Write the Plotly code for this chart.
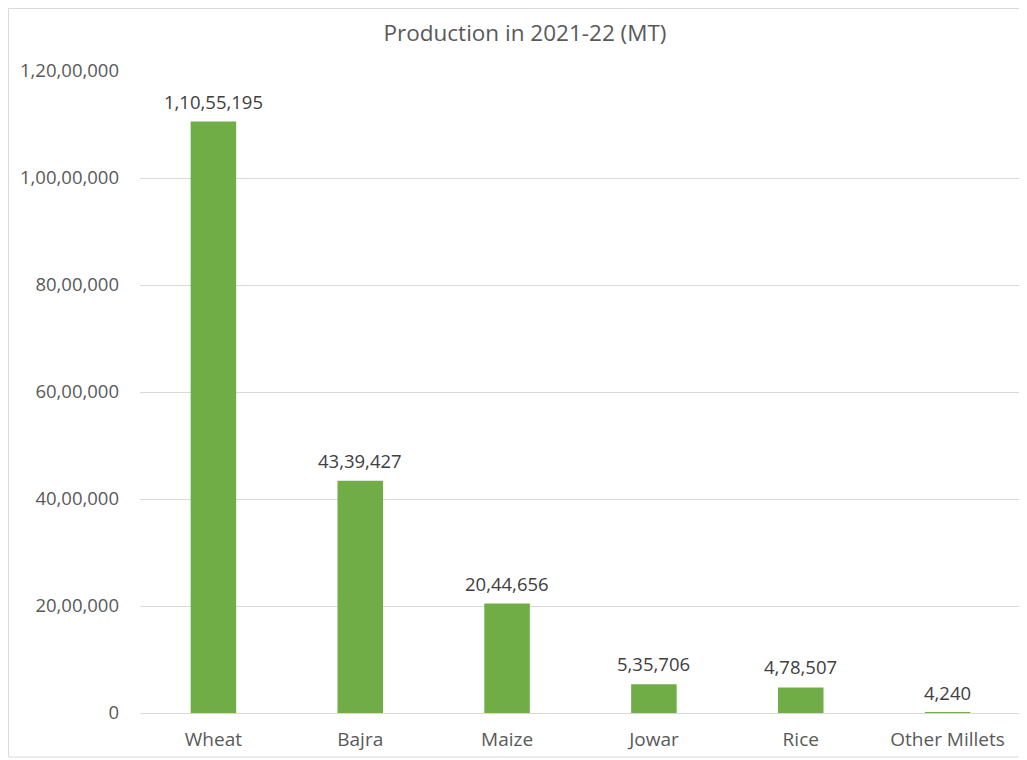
import plotly.graph_objects as go

categories = ["Wheat", "Bajra", "Maize", "Jowar", "Rice", "Other Millets"]
production = [11055195, 4339427, 2044656, 535706, 478507, 4240]
tick_values = [0, 2000000, 4000000, 6000000, 8000000, 10000000, 12000000]
tick_labels = ["0", "20,00,000", "40,00,000", "60,00,000", "80,00,000", "1,00,00,000", "1,20,00,000"]


def indian_format(n):
    s = str(int(n))
    if len(s) <= 3:
        return s
    last3 = s[-3:]
    rest = s[:-3]
    parts = []
    while len(rest) > 2:
        parts.insert(0, rest[-2:])
        rest = rest[:-2]
    if rest:
        parts.insert(0, rest)
    return ",".join(parts) + "," + last3


# page has an 8px body margin, so figure is sized to fit the window
W, H = 1019, 752
ml, mt = 132, 63
ph = 642
pw = 881
mr = W - ml - pw
mb = H - mt - ph

fig = go.Figure(
    go.Bar(
        x=categories,
        y=production,
        marker=dict(color="#70AD47", line=dict(width=0)),
        hoverinfo="x+y",
    )
)

annotations = [
    dict(
        x=c,
        y=v,
        xref="x",
        yref="y",
        text=indian_format(v),
        showarrow=False,
        yanchor="bottom",
        yshift=6,
        font=dict(size=18.5, color="#404040"),
    )
    for c, v in zip(categories, production)
]

fig.update_layout(
    width=W,
    height=H,
    margin=dict(l=ml, r=mr, t=mt, b=mb, autoexpand=False),
    paper_bgcolor="white",
    plot_bgcolor="white",
    font=dict(family="Open Sans, Liberation Sans, sans-serif", color="#595959"),
    bargap=0.69,
    showlegend=False,
    annotations=annotations,
    title=dict(
        text="Production in 2021-22 (MT)",
        x=517 / W,
        xanchor="center",
        xref="container",
        y=1 - 25 / H,
        yanchor="middle",
        font=dict(size=22.5, color="#595959"),
    ),
    xaxis=dict(
        showgrid=False,
        showline=True,
        linecolor="#D9D9D9",
        linewidth=1,
        ticks="",
        ticklabelstandoff=9,
        tickfont=dict(size=19, color="#595959"),
    ),
    yaxis=dict(
        range=[0, 12000000],
        tickvals=tick_values,
        ticktext=tick_labels,
        showgrid=True,
        gridcolor="#D9D9D9",
        gridwidth=1,
        zeroline=False,
        showline=False,
        ticks="",
        ticklabelstandoff=20,
        tickfont=dict(size=18.5, color="#595959"),
    ),
    shapes=[
        dict(
            type="rect",
            xref="paper",
            yref="paper",
            x0=(0.5 - ml) / pw,
            x1=(W + 5 - ml) / pw,
            y0=(H - 749 - mb) / ph,
            y1=(H - 0.5 - mb) / ph,
            line=dict(color="#D9D9D9", width=1),
            fillcolor="rgba(0,0,0,0)",
            layer="below",
        )
    ],
)

fig.write_html("out.html")
